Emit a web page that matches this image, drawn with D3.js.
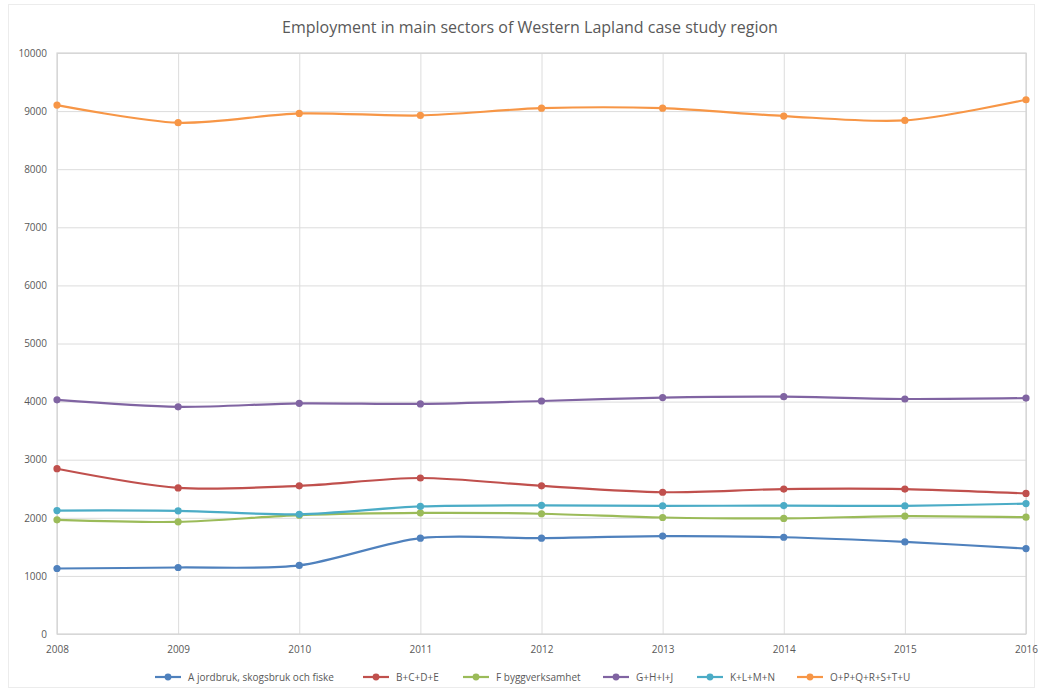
<!DOCTYPE html>
<html>
<head>
<meta charset="utf-8">
<script src="https://cdn.jsdelivr.net/npm/d3@7"></script>
<style>
  html, body { margin: 0; padding: 0; background: #ffffff; }
  svg { display: block; }
</style>
</head>
<body>
<svg id="chart" width="1039" height="692"></svg>
<script>
// Employment by sector, Western Lapland, 2008–2016
const years = [2008, 2009, 2010, 2011, 2012, 2013, 2014, 2015, 2016];
const yTicks = [0, 1000, 2000, 3000, 4000, 5000, 6000, 7000, 8000, 9000, 10000];

const seriesNames = [
  "A jordbruk, skogsbruk och fiske",
  "B+C+D+E",
  "F byggverksamhet",
  "G+H+I+J",
  "K+L+M+N",
  "O+P+Q+R+S+T+U"
];
const seriesColors = ["#4f81bd", "#c0504d", "#9bbb59", "#8064a2", "#4bacc6", "#f79646"];

const agriculture   = [1127, 1145, 1180, 1650, 1650, 1685, 1665, 1585, 1470];
const industry      = [2845, 2515, 2550, 2685, 2550, 2440, 2495, 2495, 2420];
const construction  = [1965, 1930, 2045, 2085, 2070, 2005, 1990, 2030, 2010];
const trade         = [4030, 3910, 3970, 3960, 4010, 4070, 4085, 4045, 4060];
const business      = [2125, 2120, 2060, 2195, 2215, 2205, 2210, 2205, 2245];
const publicService = [9103, 8800, 8960, 8925, 9050, 9050, 8915, 8840, 9195];

const seriesValues = [agriculture, industry, construction, trade, business, publicService];

const svg = d3.select("#chart");
const W = 1039, H = 692;
const margin = { left: 57, right: 13, top: 53, bottom: 58 };
const font = "'Open Sans', 'Liberation Sans', sans-serif";

// outer chart frame
svg.append("rect")
  .attr("x", 8.5).attr("y", 4.5)
  .attr("width", W - 13).attr("height", H - 9)
  .attr("fill", "none").attr("stroke", "#ececec").attr("stroke-width", 1);

const x = d3.scalePoint().domain(years).range([margin.left, W - margin.right]);
const y = d3.scaleLinear().domain([0, 10000]).range([H - margin.bottom, margin.top]);

// title
svg.append("text")
  .attr("x", 530).attr("y", 33)
  .attr("text-anchor", "middle")
  .attr("font-family", font).attr("font-size", 16)
  .attr("fill", "#595959")
  .text("Employment in main sectors of Western Lapland case study region");

// horizontal gridlines and y labels
const yAxis = d3.axisLeft(y).tickValues(yTicks)
  .tickSize(-(W - margin.left - margin.right)).tickPadding(10)
  .tickFormat(d3.format("d"));
const gy = svg.append("g").attr("transform", `translate(${margin.left},0)`).call(yAxis);
gy.select(".domain").remove();
gy.selectAll(".tick line").attr("stroke", "#dcdcdc").attr("stroke-width", 1);
gy.selectAll(".tick text")
  .attr("font-family", font).attr("font-size", 10).attr("fill", "#595959");

// vertical gridlines and x labels
const xAxis = d3.axisBottom(x).tickValues(years)
  .tickSize(-(H - margin.top - margin.bottom)).tickPadding(12)
  .tickFormat(d3.format("d"));
const gx = svg.append("g").attr("transform", `translate(0,${H - margin.bottom})`).call(xAxis);
gx.select(".domain").remove();
gx.selectAll(".tick line").attr("stroke", "#dcdcdc").attr("stroke-width", 1);
gx.selectAll(".tick text")
  .attr("font-family", font).attr("font-size", 10).attr("fill", "#595959");

// plot border
svg.append("rect")
  .attr("x", margin.left).attr("y", margin.top)
  .attr("width", W - margin.left - margin.right)
  .attr("height", H - margin.top - margin.bottom)
  .attr("fill", "none").attr("stroke", "#d4d4d4").attr("stroke-width", 1.2);

// smoothed lines with markers
const line = d3.line()
  .x((d, i) => x(years[i]))
  .y(d => y(d))
  .curve(d3.curveCardinal.tension(0.15));

seriesValues.forEach((vals, s) => {
  const g = svg.append("g");
  g.append("path")
    .datum(vals)
    .attr("d", line)
    .attr("fill", "none")
    .attr("stroke", seriesColors[s])
    .attr("stroke-width", 2.2);
  g.selectAll("circle")
    .data(vals)
    .join("circle")
    .attr("cx", (d, i) => x(years[i]))
    .attr("cy", d => y(d))
    .attr("r", 3.6)
    .attr("fill", seriesColors[s]);
});

// legend
const legendX = [155, 363, 463, 603, 697, 797];
const legend = svg.append("g").attr("transform", "translate(0,677)");
seriesNames.forEach((name, s) => {
  const g = legend.append("g").attr("transform", `translate(${legendX[s]},0)`);
  g.append("line")
    .attr("x1", 0).attr("x2", 26).attr("y1", 0).attr("y2", 0)
    .attr("stroke", seriesColors[s]).attr("stroke-width", 2.2);
  g.append("circle").attr("cx", 13).attr("cy", 0).attr("r", 3.4).attr("fill", seriesColors[s]);
  g.append("text")
    .attr("x", 33).attr("y", 3.5)
    .attr("font-family", font).attr("font-size", 10)
    .attr("fill", "#595959")
    .text(name);
});
</script>
</body>
</html>
